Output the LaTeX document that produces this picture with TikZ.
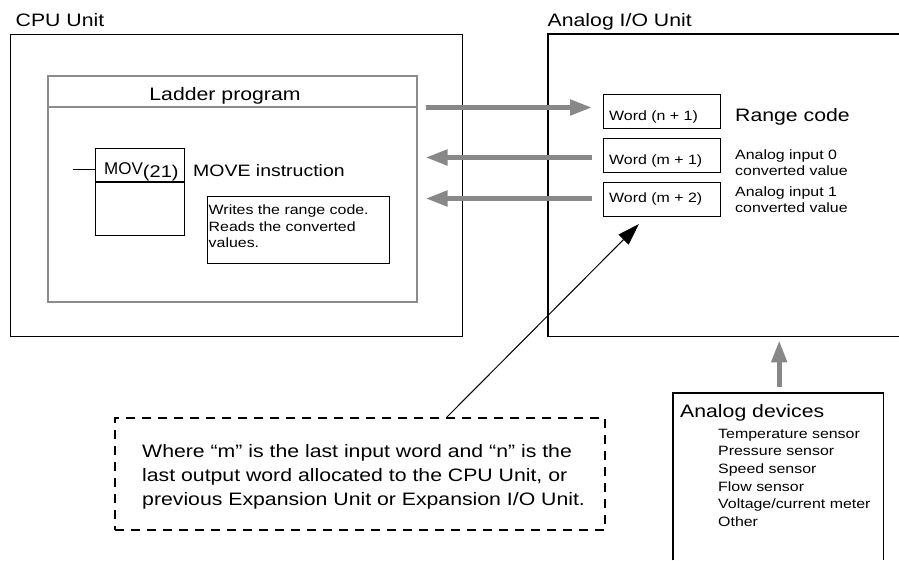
\documentclass[tikz,border=0pt]{standalone}
\usepackage{fontspec}
\setmainfont{Liberation Sans}[FakeStretch=1.18]
\newfontfamily\plainfont{Liberation Sans}
\usetikzlibrary{arrows.meta}
\definecolor{agray}{RGB}{136,136,136}
\definecolor{lgray}{RGB}{140,140,140}
\begin{document}
\begin{tikzpicture}[x=1pt,y=-1pt,
  box/.style={draw=black,line width=1.2pt,inner sep=0pt,anchor=north west},
  frame/.style={inner sep=0pt,anchor=north west},
  big/.style={font=\fontsize{18}{21}\selectfont},
  small/.style={font=\fontsize{13.5}{16}\selectfont},
  lbl/.style={inner sep=0pt,anchor=base west},
  garrow/.style={draw=agray,line width=5pt,-{Triangle[length=22pt,width=15pt]}},
  barrow/.style={draw=black,line width=1pt,-{Triangle[length=22pt,width=14pt]}},
]
\useasboundingbox (0,0) rectangle (899,560);
\fill[white] (0,0) rectangle (899,560);

% CPU Unit
\node[big,lbl] (cpulbl) at (15.5,26) {CPU Unit};
\node[box,minimum width=452pt,minimum height=302pt] (cpu) at (10,34) {};
\node[box,draw=lgray,line width=1.6pt,minimum width=369pt,minimum height=226pt] (lad) at (47,75) {};
\draw[lgray,line width=1.6pt] ([yshift=-32pt]lad.north west) -- ([yshift=-32pt]lad.north east);
\node[big,inner sep=0pt,anchor=base] (ladt) at (225,100) {Ladder program};

% MOV instruction
\node[box,line width=1.1pt,minimum width=89pt,minimum height=87pt] (mov) at (95,148) {};
\draw[line width=1.1pt] ([yshift=-34pt]mov.north west) -- ([yshift=-34pt]mov.north east);
\coordinate (rail) at (73,169);
\draw[line width=1pt] (rail) -- (rail -| mov.west);
\node[lbl,font=\fontsize{17}{20}\selectfont] (movt) at (104,174) {{\plainfont MOV}\raisebox{-3pt}{(21)}};
\node[lbl,font=\fontsize{16.5}{20}\selectfont] (movd) at (193,176) {MOVE instruction};

% comment
\node[box,line width=1pt,minimum width=182pt,minimum height=67pt] (cmt) at (207,196) {};
\node[lbl,small] (c1) at (208.5,214.5) {Writes the range code.};
\node[lbl,small] (c2) at (208.5,231) {Reads the converted};
\node[lbl,small] (c3) at (208.5,247.5) {values.};

% Analog I/O Unit
\node[big,lbl] (aiolbl) at (547.5,26) {Analog I/O Unit};
\node[frame,minimum width=351pt,minimum height=302pt] (aio) at (548,34) {};
\draw[line width=1.2pt] (aio.north east) -- (aio.north west) -- (aio.south west) -- (aio.south east);

\node[box,line width=1pt,minimum width=117pt,minimum height=34pt] (w1) at (603,94) {};
\node[box,line width=1pt,minimum width=117pt,minimum height=34pt] (w2) at (603,138) {};
\node[box,line width=1pt,minimum width=117pt,minimum height=34pt] (w3) at (603,182) {};
\node[lbl,small] (w1t) at (609,120.5) {Word (n + 1)};
\node[lbl,small] (w2t) at (609,164) {Word (m + 1)};
\node[lbl,small] (w3t) at (609,202.5) {Word (m + 2)};

\node[lbl,big] (rc) at (735,121.5) {Range code};
\node[lbl,small] (ai0a) at (735,159.5) {Analog input 0};
\node[lbl,small] (ai0b) at (735,175.5) {converted value};
\node[lbl,small] (ai1a) at (735,196.5) {Analog input 1};
\node[lbl,small] (ai1b) at (735,212.5) {converted value};

% gray data arrows
\draw[garrow] ([xshift=8pt,yshift=4pt]lad.east |- w1.west) -- ([xshift=-11pt,yshift=4pt]w1.west);
\draw[garrow] ([xshift=-11pt,yshift=-2pt]w2.west) -- ([xshift=8pt,yshift=-2pt]lad.east |- w2.west);
\draw[garrow] ([xshift=-11pt,yshift=1pt]w3.west) -- ([xshift=8pt,yshift=1pt]lad.east |- w3.west);

% note
\node[draw,line width=2pt,dash pattern=on 9pt off 7pt,inner sep=0pt,minimum width=490pt,minimum height=112pt] (note) at (360,474) {};
\node[lbl,big] (n1) at (142,457.5) {Where “m” is the last input word and “n” is the};
\node[lbl,big] (n2) at (142,481.5) {last output word allocated to the CPU Unit, or};
\node[lbl,big] (n3) at (142,505.5) {previous Expansion Unit or Expansion I/O Unit.};
\coordinate (notept) at ([xshift=87pt]note.north);
\draw[barrow] (notept) -- ([xshift=36pt,yshift=-7pt]w3.south west);

% analog devices
\node[frame,minimum width=210pt,minimum height=167pt] (dev) at (673,393) {};
\draw[line width=1.2pt] (dev.south west) -- (dev.north west) -- (dev.north east) -- (dev.south east);
\node[lbl,big] (devt) at (680,417) {Analog devices};
\node[lbl,small] (d1) at (718,438) {Temperature sensor};
\node[lbl,small] (d2) at (718,455.7) {Pressure sensor};
\node[lbl,small] (d3) at (718,473.4) {Speed sensor};
\node[lbl,small] (d4) at (718,491.1) {Flow sensor};
\node[lbl,small] (d5) at (718,508.8) {Voltage/current meter};
\node[lbl,small] (d6) at (718,526.5) {Other};
\draw[garrow] ([xshift=1pt,yshift=6pt]dev.north) -- ([xshift=1pt,yshift=-4pt]dev.north |- aio.south);
\end{tikzpicture}
\end{document}
